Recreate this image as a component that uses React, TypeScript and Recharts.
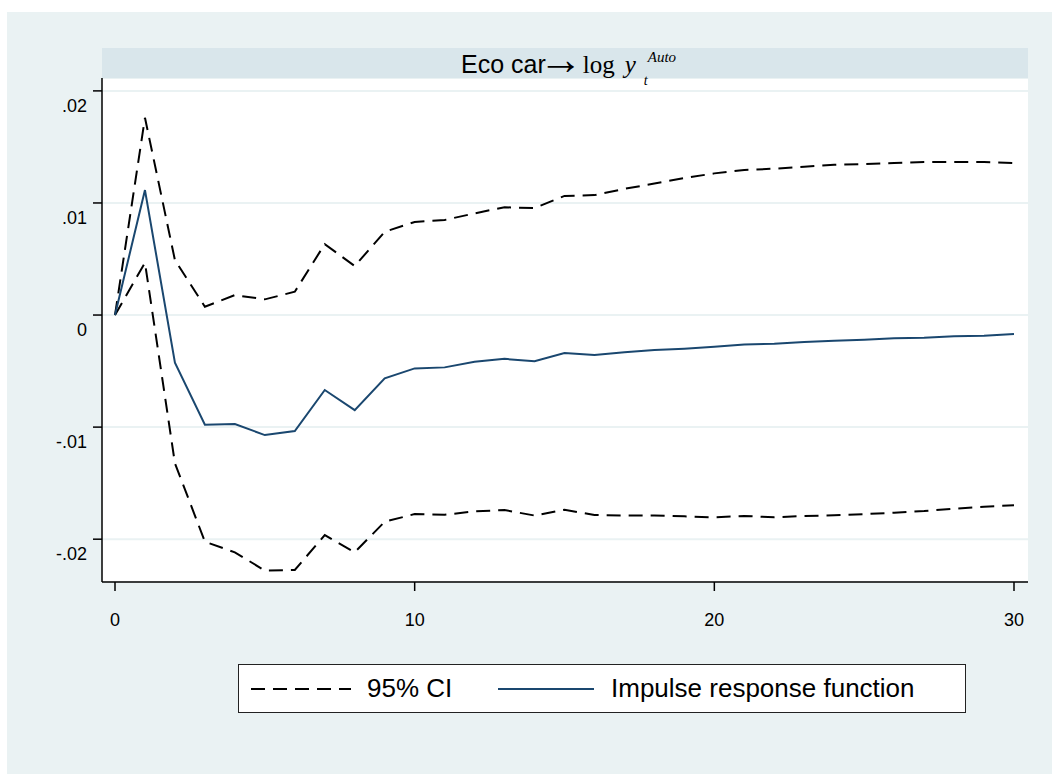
import { CartesianGrid, Line, LineChart, XAxis, YAxis } from 'recharts'

// Horizon steps and the three series.
const STEPS = [0, 1, 2, 3, 4, 5, 6, 7, 8, 9, 10, 11, 12, 13, 14, 15, 16, 17, 18, 19, 20, 21, 22, 23, 24, 25, 26, 27, 28, 29, 30]

const UPPER = [
  0, 0.0176, 0.0049, 0.00074, 0.00178, 0.0014, 0.00208, 0.00633, 0.00437, 0.00743, 0.0083, 0.00848, 0.00907, 0.00962,
  0.00954, 0.01063, 0.0107, 0.01126, 0.01173, 0.01222, 0.01264, 0.01294, 0.01306, 0.01323, 0.01341, 0.01347, 0.01356,
  0.01365, 0.01365, 0.01365, 0.01356,
]

const IRF = [
  0, 0.01115, -0.00425, -0.00978, -0.00972, -0.01071, -0.01035, -0.00669, -0.00848, -0.00565, -0.00476, -0.00467,
  -0.00416, -0.00391, -0.00412, -0.00338, -0.00356, -0.00333, -0.00312, -0.003, -0.00283, -0.00262, -0.00256, -0.00241,
  -0.00229, -0.0022, -0.00208, -0.00202, -0.0019, -0.00184, -0.0017,
]

const LOWER = [
  0, 0.00467, -0.01323, -0.02022, -0.02117, -0.0228, -0.02275, -0.01963, -0.02117, -0.01844, -0.01776, -0.01782,
  -0.01752, -0.0174, -0.01789, -0.01737, -0.01784, -0.01789, -0.01789, -0.01796, -0.01805, -0.01793, -0.01805, -0.01793,
  -0.01787, -0.01776, -0.01764, -0.01749, -0.01728, -0.0171, -0.01698,
]

const X_TICKS = [0, 10, 20, 30]
const Y_TICKS = [-0.02, -0.01, 0, 0.01, 0.02]
const Y_LABELS = ['-.02', '-.01', '0', '.01', '.02']

const BG = '#eaf2f3'
const BAND = '#d9e6eb'
const NAVY = '#1a476f'
const SANS = '"Liberation Sans", Arial, sans-serif'
const SERIF = '"Liberation Serif", "Times New Roman", serif'

const data = STEPS.map((step, i) => ({ step, upper: UPPER[i], irf: IRF[i], lower: LOWER[i] }))

function YTick(props: any) {
  const { x, y, payload } = props
  const idx = Y_TICKS.indexOf(payload.value)
  return (
    <text x={x} y={y + 15} textAnchor="end" dominantBaseline="central" fontFamily={SANS} fontSize={18} fill="#000">
      {idx >= 0 ? Y_LABELS[idx] : payload.value}
    </text>
  )
}

function XTick(props: any) {
  const { x, y, payload } = props
  return (
    <text x={x} y={y + 29} textAnchor="middle" dominantBaseline="central" fontFamily={SANS} fontSize={18} fill="#000">
      {payload.value}
    </text>
  )
}

export default function App() {
  return (
    <div style={{ position: 'absolute', left: 0, top: 0, width: 1052, height: 774, background: '#fff' }}>
      <div style={{ position: 'absolute', left: 7, top: 12, width: 1045, height: 762, background: BG }} />

      <div style={{ position: 'absolute', left: 0, top: 0 }}>
        <LineChart width={1052} height={774} data={data} margin={{ top: 78, right: 24, left: 42, bottom: 152 }}>
          <CartesianGrid horizontal vertical={false} stroke={BG} strokeWidth={2} fill="#fff" />
          <XAxis
            type="number"
            dataKey="step"
            domain={[0, 30]}
            ticks={X_TICKS}
            padding={{ left: 13, right: 14 }}
            height={40}
            tickSize={9}
            tickMargin={0}
            tick={XTick}
            axisLine={{ stroke: '#000', strokeWidth: 1.5 }}
            tickLine={{ stroke: '#000', strokeWidth: 1.5 }}
          />
          <YAxis
            type="number"
            domain={[-0.02382, 0.02115]}
            allowDataOverflow
            ticks={Y_TICKS}
            width={60}
            tickSize={9}
            tickMargin={6}
            tick={YTick}
            axisLine={{ stroke: '#000', strokeWidth: 1.5 }}
            tickLine={{ stroke: '#000', strokeWidth: 1.5 }}
          />
          <Line type="linear" dataKey="upper" stroke="#000" strokeWidth={2} strokeDasharray="14 8" dot={false} isAnimationActive={false} />
          <Line type="linear" dataKey="lower" stroke="#000" strokeWidth={2} strokeDasharray="14 8" dot={false} isAnimationActive={false} />
          <Line type="linear" dataKey="irf" stroke={NAVY} strokeWidth={2} dot={false} isAnimationActive={false} />
        </LineChart>
      </div>

      {/* title band, drawn over the chart so the subscript is not hidden; one text node with tspans */}
      <svg width={1052} height={100} style={{ position: 'absolute', left: 0, top: 0, pointerEvents: 'none' }}>
        <rect x={102} y={48} width={926} height={30} fill={BAND} />
        <text x={461} y={72.5} fill="#000">
          <tspan fontFamily={SANS} fontSize={25}>Eco car</tspan>
          <tspan fontFamily={SERIF} fontSize={44} dx={-7} dy={1}>→</tspan>
          <tspan fontFamily={SERIF} fontSize={25} dx={0} dy={-1}>log</tspan>
          <tspan fontFamily={SERIF} fontSize={25} fontStyle="italic" dx={10}>y</tspan>
          <tspan fontFamily={SERIF} fontSize={14} fontStyle="italic" dx={8} dy={12.5}>t</tspan>
          <tspan fontFamily={SERIF} fontSize={15} fontStyle="italic" dx={0} dy={-23.5}>Auto</tspan>
        </text>
      </svg>

      {/* legend */}
      <div
        style={{
          position: 'absolute', left: 238, top: 664, width: 726, height: 47,
          background: '#fff', border: '1px solid #222', fontFamily: SANS, fontSize: 26, color: '#000',
        }}
      >
        <svg width={726} height={47} style={{ position: 'absolute', left: 0, top: 0 }}>
          <line x1={12} x2={112} y1={24} y2={24} stroke="#000" strokeWidth={2} strokeDasharray="14 8" />
          <line x1={259} x2={355} y1={24} y2={24} stroke={NAVY} strokeWidth={2} />
        </svg>
        <span style={{ position: 'absolute', left: 128, top: 8, lineHeight: '30px' }}>95% CI</span>
        <span style={{ position: 'absolute', left: 372, top: 8, lineHeight: '30px' }}>Impulse response function</span>
      </div>
    </div>
  )
}
